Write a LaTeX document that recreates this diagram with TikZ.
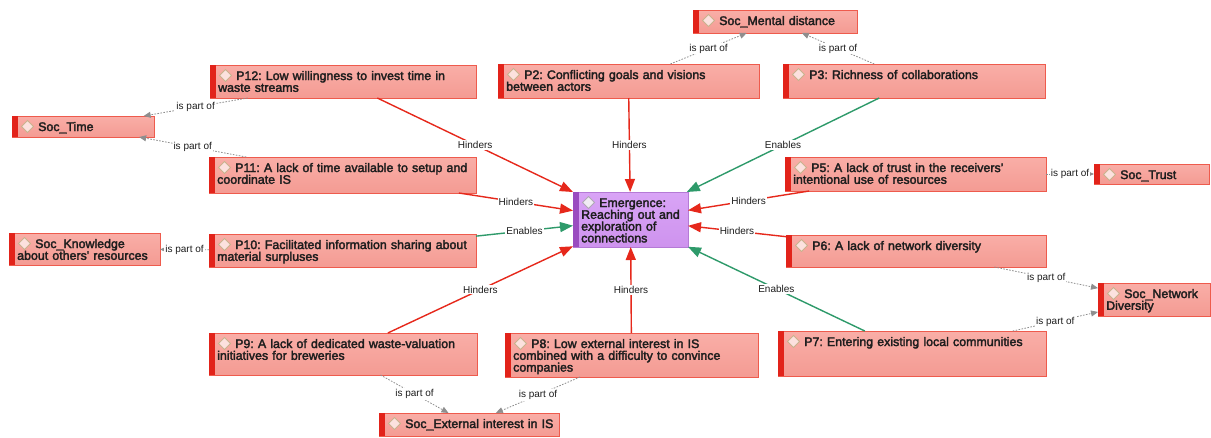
\documentclass[tikz,border=0pt]{standalone}
\usepackage{fontspec}
\usetikzlibrary{arrows.meta,calc}
\newfontfamily\boxfont[FakeBold=2.5]{Liberation Sans}
\newfontfamily\labfont{Liberation Sans}

\definecolor{boxtop}{HTML}{F9AEA7}
\definecolor{boxbot}{HTML}{F49B93}
\definecolor{boxline}{HTML}{EE5B4D}
\definecolor{boxbar}{HTML}{E2231A}
\definecolor{emtop}{HTML}{D9A4F6}
\definecolor{embot}{HTML}{CE93EE}
\definecolor{emline}{HTML}{B57AD6}
\definecolor{embarcol}{HTML}{9A4CC0}
\definecolor{diafill}{HTML}{FCE1DE}
\definecolor{dialine}{HTML}{C9B38E}
\definecolor{emdiafill}{HTML}{F1ECF4}
\definecolor{emdialine}{HTML}{B0A8B6}
\definecolor{hindcol}{HTML}{E6281B}
\definecolor{enabcol}{HTML}{2E9A6A}
\definecolor{partcol}{HTML}{8E8E8E}
\definecolor{ink}{HTML}{1E1E1E}

\tikzset{
  concnode/.style={rectangle, inner sep=0pt, outer sep=0pt, draw=boxline, line width=0.8pt,
    top color=boxtop, bottom color=boxbot},
  concbar/.style={fill=boxbar},
  concdia/.style={fill=diafill, draw=dialine, line width=0.9pt},
  emnode/.style={rectangle, inner sep=0pt, outer sep=0pt, draw=emline, line width=0.8pt,
    top color=emtop, bottom color=embot},
  embar/.style={fill=embarcol},
  emdia/.style={fill=emdiafill, draw=emdialine, line width=0.9pt},
  ctext/.style={inner sep=0pt, anchor=base west, text width=300pt, align=left, text=ink,
    font=\boxfont\fontsize{12.4}{11.8}\selectfont},
  lab/.style={fill=white, inner sep=1pt, text=ink, font=\labfont\fontsize{10}{11}\selectfont},
  hinders/.style={draw=hindcol, line width=1.4pt, -{Triangle[length=13pt,width=10pt]}},
  enables/.style={draw=enabcol, line width=1.4pt, -{Triangle[length=13pt,width=10pt]}},
  partof/.style={draw=partcol, line width=0.8pt, dash pattern=on 1.6pt off 1.4pt,
    -{Triangle[length=7pt,width=6pt]}},
}

% #1 style prefix, #2 name, #3 left, #4 top, #5 right, #6 bottom, #7 text
\newcommand\conceptbox[7]{%
  \node[#1node, anchor=north west, minimum width={(#5-#3)*1pt},
        minimum height={(#6-#4)*1pt}] (#2) at (#3,#4) {};
  \fill[#1bar] (#2.north west) rectangle ($(#2.south west)+(6,0)$);
  \filldraw[#1dia] ($(#2.north west)+(15.5,4.5)$) -- ++(6,6) -- ++(-6,6)
    -- ++(-6,-6) -- cycle;
  \node[ctext] (#2-text) at ($(#2.north west)+(8,15)$) {\hspace*{18pt}#7};
}

\begin{document}
\frenchspacing
\begin{tikzpicture}[x=1pt, y=-1pt]
\useasboundingbox (0,0) rectangle (1211,437);
\fill[white] (0,0) rectangle (1211,437);

% concepts
\conceptbox{conc}{socmental}{693}{10}{857}{33}{Soc\_Mental distance}
\conceptbox{conc}{ptwo}{498}{64}{759}{98}{P2: Conflicting goals and visions\\between actors}
\conceptbox{conc}{pthree}{783}{64}{1045}{98}{P3: Richness of collaborations}
\conceptbox{conc}{ptwelve}{210}{65}{476}{98}{P12: Low willingness to invest time in\\waste streams}
\conceptbox{conc}{soctime}{12}{116}{154}{137}{Soc\_Time}
\conceptbox{conc}{peleven}{209}{157}{476}{193}{P11: A lack of time available to setup and\\coordinate IS}
\conceptbox{em}{emerg}{573}{192}{688}{247}{Emergence:\\Reaching out and\\exploration of\\connections}
\conceptbox{conc}{pfive}{785}{157}{1046}{191}{P5: A lack of trust in the receivers’\\intentional use of resources}
\conceptbox{conc}{soctrust}{1094}{164}{1209}{184}{Soc\_Trust}
\conceptbox{conc}{pten}{209}{234}{476}{267}{P10: Facilitated information sharing about\\material surpluses}
\conceptbox{conc}{socknow}{9}{233}{160}{265}{Soc\_Knowledge\\about others' resources}
\conceptbox{conc}{psix}{786}{235}{1046}{267}{P6: A lack of network diversity}
\conceptbox{conc}{socnet}{1098}{283}{1210}{316}{Soc\_Network\\Diversity}
\conceptbox{conc}{pnine}{209}{333}{477}{375}{P9: A lack of dedicated waste-valuation\\initiatives for breweries}
\conceptbox{conc}{peight}{505}{333}{758}{377}{P8: Low external interest in IS\\combined with a difficulty to convince\\companies}
\conceptbox{conc}{pseven}{778}{331}{1046}{376}{P7: Entering existing local communities}
\conceptbox{conc}{socext}{379}{413}{559}{436}{Soc\_External interest in IS}

% relations to the emergence concept
\draw[hinders] (ptwelve) -- node[lab]{Hinders} (emerg);
\draw[hinders] (ptwo) -- node[lab]{Hinders} (emerg);
\draw[enables] (pthree) -- node[lab]{Enables} (emerg);
\draw[hinders] (peleven) -- node[lab]{Hinders} (emerg);
\draw[hinders] (pfive) -- node[lab]{Hinders} (emerg);
\draw[enables] (pten) -- node[lab]{Enables} (emerg);
\draw[hinders] (psix) -- node[lab]{Hinders} (emerg);
\draw[hinders] (pnine) -- node[lab]{Hinders} (emerg);
\draw[hinders] (peight) -- node[lab]{Hinders} (emerg);
\draw[enables] (pseven) -- node[lab]{Enables} (emerg);

% part-of relations
\draw[partof] (ptwo) -- node[lab]{is part of} (socmental);
\draw[partof] (pthree) -- node[lab]{is part of} (socmental);
\draw[partof] (ptwelve) -- node[lab]{is part of} (soctime);
\draw[partof] (peleven) -- node[lab]{is part of} (soctime);
\draw[partof] (pfive) -- node[lab]{is part of} (soctrust);
\draw[partof] (pten) -- node[lab]{is part of} (socknow);
\draw[partof] (psix) -- node[lab]{is part of} (socnet);
\draw[partof] (pseven) -- node[lab]{is part of} (socnet);
\draw[partof] (pnine) -- node[lab]{is part of} (socext);
\draw[partof] (peight) -- node[lab]{is part of} (socext);
\end{tikzpicture}
\end{document}
